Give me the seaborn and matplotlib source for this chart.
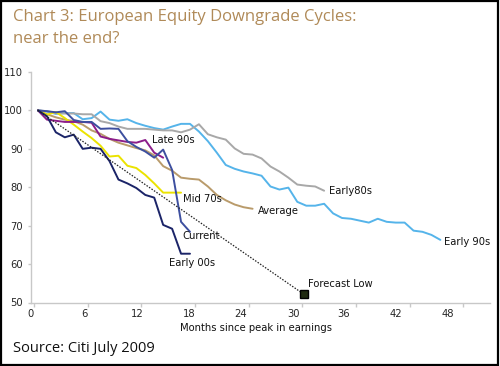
import numpy as np
import pandas as pd
import seaborn as sns
import matplotlib
matplotlib.use("Agg")
import matplotlib.pyplot as plt
from matplotlib.patches import Rectangle
from matplotlib import font_manager as fm

# ---- data ----
early_90s = [100, 99.7, 99.1, 99.3, 99.3, 97.7, 98, 99.7, 97.6, 97.3, 97.7, 96.7, 96, 95.4, 95,
             95.8, 96.5, 96.5, 94.5, 92, 89, 85.8, 84.8, 84.1, 83.6, 83, 80.2, 79.4, 79.9, 76.2,
             75.2, 75.2, 75.7, 73.2, 72, 71.8, 71.3, 70.8, 71.8, 71, 70.8, 70.8, 68.7, 68.4, 67.6, 66.3]
early_80s = [100, 99.8, 99.3, 99.2, 99.2, 99, 99, 97.2, 96.7, 95.8, 95.2, 95.2, 95.2, 95, 94.8,
             94.8, 94.3, 95, 96.4, 93.8, 93, 92.4, 90.1, 88.7, 88.5, 87.5, 85.4, 84.1, 82.5, 80.7,
             80.4, 80.2, 79.1]
average = [100, 99, 98.2, 97.6, 97.2, 96.3, 94.8, 93.9, 92.6, 91.6, 90.9, 90.2, 89.6, 88.3, 85.5,
           84.3, 82.5, 82.2, 82, 80.2, 78, 76.6, 75.5, 74.8, 74.4]
mid_70s = [100, 98.9, 99.6, 98, 96.3, 94.5, 92.8, 90.8, 88, 88.2, 85.6, 85, 83.2, 81, 78.6, 78.6, 78.6]
late_90s = [100, 97.6, 97.3, 97, 97, 97, 96.8, 93.2, 92.6, 92.2, 91.8, 91.6, 92.3, 89, 87.7]
current = [100, 99.8, 99.5, 99.8, 97.5, 97, 97, 95.2, 95.3, 95.2, 92, 90.5, 89.3, 87.7, 89.8, 84.5, 71, 68.4]
early_00s = [100, 98.5, 94.3, 93, 93.7, 90, 90.3, 90, 86.8, 82, 81, 79.8, 78, 77.3, 70.2, 69.2, 62.7, 62.7]

forecast_months = [0, 29.7]
forecast_values = [100, 52.2]

series_names = ["Early 90s", "Early80s", "Average", "Mid 70s", "Late 90s", "Current", "Early 00s"]
series_values = [early_90s, early_80s, average, mid_70s, late_90s, current, early_00s]
colors = ["#55b4ea", "#a8a8a8", "#b99b6b", "#ebe300", "#8c1d8a", "#3d4f9f", "#1b2468"]

x_tick_labels = ["0", "6", "12", "18", "24", "30", "36", "42", "48"]
y_ticks = [50, 60, 70, 80, 90, 100, 110]

rows = []
for name, vals in zip(series_names, series_values):
    for m, v in enumerate(vals):
        rows.append({"cycle": name, "month": m, "value": v})
df = pd.DataFrame(rows)

# ---- style ----
sns.set_style("white")
plt.rcParams["font.family"] = ["Roboto", "DejaVu Sans"]

# find a narrow / condensed face if one is installed
narrow_file = None
for f in fm.fontManager.ttflist:
    n = f.name.lower()
    st = str(f.stretch).lower()
    if ("narrow" in n or "condensed" in n or st in ("condensed", "semi-condensed")) \
            and f.style == "normal" and f.weight in (400, "normal", "regular"):
        narrow_file = f.fname
        break
if narrow_file:
    small = fm.FontProperties(fname=narrow_file, size=8)
else:
    small = fm.FontProperties(family=["Roboto", "DejaVu Sans"], size=7.5)

fig = plt.figure(figsize=(5.0, 3.66), dpi=100)
ax = fig.add_axes([31 / 500, 1 - 302.5 / 366, 459 / 500, 230.5 / 366])

sns.lineplot(data=df, x="month", y="value", hue="cycle", hue_order=series_names,
             palette=dict(zip(series_names, colors)), linewidth=1.4, legend=False,
             ax=ax, sort=False, estimator=None)

# forecast dotted line and marker
ax.plot(forecast_months, forecast_values, color="#222222", linestyle=(0, (1.2, 1.2)), linewidth=0.9)
ax.plot([forecast_months[-1]], [forecast_values[-1]], marker="s", markersize=6,
        markerfacecolor="#1f2a10", markeredgecolor="black", linestyle="none")

# axes
ax.set_xlim(-0.45, 50.55)
ax.set_ylim(50, 110)
for s in ["top", "right"]:
    ax.spines[s].set_visible(False)
for s in ["left", "bottom"]:
    ax.spines[s].set_color("#c8c8c8")
    ax.spines[s].set_linewidth(1.0)

tick_pos = [6 * k - 0.44 for k in range(9)]
label_pos = [-0.78, 5.22, 11.1, 16.9, 22.6, 28.6, 34.2, 40.0, 45.8]
ax.set_xticks(tick_pos)
ax.set_xticklabels([])
ax.set_xticks(label_pos, minor=True)
ax.set_xticklabels(x_tick_labels, minor=True, fontproperties=small)
ax.tick_params(axis="x", which="major", length=3, width=1, color="#c8c8c8", direction="out", bottom=True)
ax.tick_params(axis="x", which="minor", length=0, pad=5)
ax.set_yticks(y_ticks)
ax.set_yticklabels([str(v) for v in y_ticks], fontproperties=small)
ax.tick_params(axis="y", length=2, width=1, color="#c8c8c8", direction="out", left=True, pad=4)
ax.set_xlabel("")
ax.set_ylabel("")

# series labels
labels = [
    ("Late 90s", 12.7, 92.2),
    ("Mid 70s", 16.2, 77.0),
    ("Current", 16.1, 67.4),
    ("Early 00s", 14.7, 60.3),
    ("Average", 24.6, 73.9),
    ("Early80s", 32.6, 79.1),
    ("Early 90s", 45.4, 65.8),
    ("Forecast Low", 30.2, 54.8),
]
for txt, x, y in labels:
    ax.text(x, y, txt, fontproperties=small, ha="left", va="center", color="#111111")

ax.text((256 - 31) / 459, -(328 - 302.5) / 230.5, "Months since peak in earnings",
        transform=ax.transAxes, ha="center", va="center", fontproperties=small, color="#111111")

# title and source
title_font = ["Open Sans", "DejaVu Sans"]
fig.text(13 / 500, 1 - 21 / 366, "Chart 3: European Equity Downgrade Cycles:", family=title_font,
         fontsize=12, color="#b08a58", ha="left", va="baseline")
fig.text(13 / 500, 1 - 43 / 366, "near the end?", family=title_font,
         fontsize=12, color="#b08a58", ha="left", va="baseline")
fig.text(13 / 500, 1 - 352 / 366, "Source: Citi July 2009", family=title_font,
         fontsize=10.5, color="#111111", ha="left", va="baseline")

# frame
fig.patches.append(Rectangle((0.001, 0.002), 0.995, 0.995, transform=fig.transFigure,
                             fill=False, edgecolor="black", linewidth=1.6))

fig.savefig("out.png", dpi=100)
